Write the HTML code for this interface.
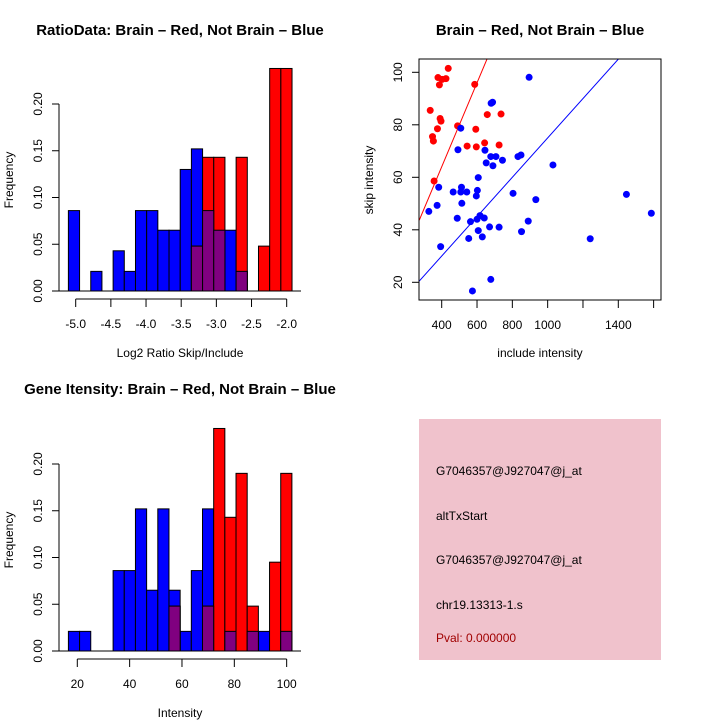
<!DOCTYPE html>
<html><head><meta charset="utf-8"><style>
body{margin:0;background:#fff}
svg{display:block;font-family:"Liberation Sans",sans-serif}
</style></head><body>
<svg id="s" width="720" height="720" viewBox="0 0 720 720">
<text x="180" y="35" font-size="15" font-weight="bold" text-anchor="middle">RatioData: Brain – Red, Not Brain – Blue</text>
<text x="540" y="35" font-size="15" font-weight="bold" text-anchor="middle">Brain – Red, Not Brain – Blue</text>
<text x="180" y="394" font-size="15" font-weight="bold" text-anchor="middle">Gene Itensity: Brain – Red, Not Brain – Blue</text>
<text x="180" y="357" font-size="12" text-anchor="middle">Log2 Ratio Skip/Include</text>
<text x="180" y="717" font-size="12" text-anchor="middle">Intensity</text>
<text transform="translate(13,180) rotate(-90)" font-size="12" text-anchor="middle">Frequency</text>
<text transform="translate(13,540) rotate(-90)" font-size="12" text-anchor="middle">Frequency</text>
<text x="540" y="357" font-size="12" text-anchor="middle">include intensity</text>
<text transform="translate(373,180) rotate(-90)" font-size="12" text-anchor="middle">skip intensity</text>
<rect x="419" y="419" width="242" height="241" fill="#f0c2cc"/>
<g font-size="12">
<text x="436" y="475">G7046357@J927047@j_at</text>
<text x="436" y="520">altTxStart</text>
<text x="436" y="564">G7046357@J927047@j_at</text>
<text x="436" y="609">chr19.13313-1.s</text>
<text x="436" y="642" fill="#a00000">Pval: 0.000000</text>
</g>
</svg>
<script>
// ratio histogram data
const ratioBinStart = -5.104, ratioBinWidth = 0.159;
const ratioBlue = [0.086,0,0.021,0,0.043,0.021,0.086,0.086,0.065,0.065,0.13,0.152,0.086,0.065,0.065,0.021,0,0,0,0];
const ratioRed  = [0,0,0,0,0,0,0,0,0,0,0,0.048,0.143,0.143,0,0.143,0,0.048,0.238,0.238];
const ratioXTicks = [-5.0,-4.5,-4.0,-3.5,-3.0,-2.5,-2.0];
const ratioXLabels = ["-5.0","-4.5","-4.0","-3.5","-3.0","-2.5","-2.0"];
// intensity histogram data
const intBinStart = 16.6, intBinWidth = 4.27;
const intBlue = [0.021,0.021,0,0,0.086,0.086,0.152,0.065,0.152,0.065,0.021,0.086,0.152,0,0.021,0,0.021,0.021,0,0.021];
const intRed  = [0,0,0,0,0,0,0,0,0,0.048,0,0,0.048,0.238,0.143,0.19,0.048,0,0.095,0.19];
const intXTicks = [20,40,60,80,100];
const freqTicks = [0,0.05,0.10,0.15,0.20];
const freqLabels = ["0.00","0.05","0.10","0.15","0.20"];
// scatter data
const redInclude = [437,379,424,402,387,587,335,391,396,376,658,736,490,593,348,353,643,544,596,725,357];
const redSkip    = [101.5,98,97.6,97.3,95.2,95.4,85.5,82.4,81.4,78.5,83.9,84.1,79.6,78.3,75.5,73.8,73.1,71.9,71.6,72.3,58.6];
const blueInclude = [895,680,688,508,1030,492,645,652,678,707,690,744,832,849,607,383,512,465,508,542,602,596,514,374,933,804,1446,1587,1241,327,488,600,617,641,563,671,725,890,852,607,630,553,394,678,574];
const blueSkip    = [98.1,88.2,88.6,78.7,64.7,70.5,70.3,65.5,67.9,67.9,64.4,66.5,67.9,68.5,59.9,56.2,56.2,54.4,54.4,54.4,55.0,52.9,50.1,49.3,51.5,53.9,53.5,46.3,36.6,47.0,44.4,44.0,45.4,44.5,43.1,41.1,41.0,43.3,39.3,39.7,37.3,36.7,33.6,21.1,16.7];
const scatterXTicks = [400,600,800,1000,1200,1400,1600];
const scatterXLabels = ["400","600","800","1000","","1400",""];
const scatterYTicks = [20,40,60,80,100];
const redSlope = 0.16, blueSlope = 0.075;

const NS="http://www.w3.org/2000/svg", svg=document.getElementById('s');
function mk(tag,attrs,parent){const e=document.createElementNS(NS,tag);for(const k in attrs)e.setAttribute(k,attrs[k]);(parent||svg).appendChild(e);return e;}

function hist(name,y0,binStart,binW,blue,red,xTicks,xLabels,xlin){
  const g=mk('g',{});
  
  
  const fy=v=>y0-v*935;
  const xs=v=>xlin(v);
  const draw=(arr,col,nm)=>arr.forEach((v,i)=>{ if(v<=0)return;
    const x1=xs(binStart+i*binW), x2=xs(binStart+(i+1)*binW);
    const r=mk('rect',{x:x1,y:fy(v),width:x2-x1,height:y0-fy(v),fill:col,stroke:'#000','stroke-width':1},g);
    
    
  });
  draw(blue,'#0000ff','blue');
  draw(red,'#ff0000','red');
  draw(blue.map((v,i)=>Math.min(v,red[i])),'#800080','overlap');
  mk('line',{x1:59,x2:301,y1:y0,y2:y0,stroke:'#000'},g);
  mk('line',{x1:59,x2:59,y1:fy(0),y2:fy(0.2),stroke:'#000'},g);
  freqTicks.forEach((t,i)=>{mk('line',{x1:52,x2:59,y1:fy(t),y2:fy(t),stroke:'#000'},g);
    const tx=mk('text',{transform:`translate(42,${fy(t)}) rotate(-90)`,'font-size':12,'text-anchor':'middle'},g);tx.textContent=freqLabels[i];
    
    });
  const ya=y0+8;
  mk('line',{x1:xs(xTicks[0]),x2:xs(xTicks[xTicks.length-1]),y1:ya,y2:ya,stroke:'#000'},g);
  xTicks.forEach((t,i)=>{mk('line',{x1:xs(t),x2:xs(t),y1:ya,y2:ya+8,stroke:'#000'},g);
    const tx=mk('text',{x:xs(t),y:ya+29,'font-size':12,'text-anchor':'middle'},g);tx.textContent=xLabels[i];
    
    });
}
hist('ratio-histogram',291,ratioBinStart,ratioBinWidth,ratioBlue,ratioRed,ratioXTicks,ratioXLabels,v=>75.7+(v+5)*70.33);
hist('intensity-histogram',651,intBinStart,intBinWidth,intBlue,intRed,intXTicks,intXTicks.map(String),v=>77.3+(v-20)*2.617);

const sx=v=>441.7+(v-400)*0.1766, sy=v=>72.3+(100-v)*2.625;
const sg=mk('g',{});


const cp=mk('clipPath',{id:'cp'},sg);
mk('rect',{x:419,y:59,width:242,height:241},cp);
const x0=273,x1=1650;
const rl=mk('line',{x1:sx(x0),y1:sy(redSlope*x0),x2:sx(x1),y2:sy(redSlope*x1),stroke:'#ff0000','clip-path':'url(#cp)'},sg);


const bl=mk('line',{x1:sx(x0),y1:sy(blueSlope*x0),x2:sx(x1),y2:sy(blueSlope*x1),stroke:'#0000ff','clip-path':'url(#cp)'},sg);


redInclude.forEach((v,i)=>{const c=mk('circle',{cx:sx(v),cy:sy(redSkip[i]),r:3.5,fill:'#ff0000'},sg);
  
  });
blueInclude.forEach((v,i)=>{const c=mk('circle',{cx:sx(v),cy:sy(blueSkip[i]),r:3.5,fill:'#0000ff'},sg);
  
  });
mk('rect',{x:419,y:59,width:242,height:241,fill:'none',stroke:'#000'},sg);
scatterXTicks.forEach((t,i)=>{mk('line',{x1:sx(t),x2:sx(t),y1:300,y2:308,stroke:'#000'},sg);
  const tx=mk('text',{x:sx(t),y:329,'font-size':12,'text-anchor':'middle'},sg);tx.textContent=scatterXLabels[i];
  
  });
scatterYTicks.forEach(t=>{mk('line',{x1:412,x2:419,y1:sy(t),y2:sy(t),stroke:'#000'},sg);
  const tx=mk('text',{transform:`translate(402,${sy(t)}) rotate(-90)`,'font-size':12,'text-anchor':'middle'},sg);tx.textContent=String(t);
  
  });
</script>
</body></html>
